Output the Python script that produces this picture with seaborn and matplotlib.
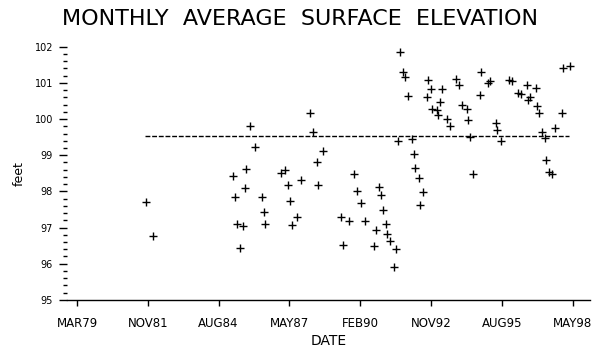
import numpy as np
import pandas as pd
import matplotlib
matplotlib.use("Agg")
import matplotlib.pyplot as plt
import seaborn as sns

# decimal year of each monthly reading, and elevation in feet
year = [1981.83, 1982.10, 1985.20, 1985.28, 1985.35, 1985.47, 1985.59, 1985.66,
        1985.70, 1985.86, 1986.05, 1986.33, 1986.38, 1986.44, 1987.06, 1987.21,
        1987.33, 1987.40, 1987.48, 1987.67, 1987.83, 1988.18, 1988.29, 1988.45,
        1988.49, 1988.68, 1989.38, 1989.45, 1989.68, 1989.88, 1989.99, 1990.15,
        1990.30, 1990.65, 1990.73, 1990.84, 1990.92, 1991.00, 1991.12, 1991.15,
        1991.27, 1991.42, 1991.50, 1991.58, 1991.66, 1991.77, 1991.85, 1991.97,
        1992.12, 1992.20, 1992.24, 1992.39, 1992.43, 1992.55, 1992.70, 1992.74,
        1992.86, 1992.89, 1993.09, 1993.11, 1993.20, 1993.28, 1993.47, 1993.59,
        1993.82, 1993.94, 1994.05, 1994.25, 1994.29, 1994.36, 1994.48, 1994.75,
        1994.80, 1995.06, 1995.14, 1995.35, 1995.39, 1995.56, 1995.87, 1995.99,
        1996.22, 1996.34, 1996.57, 1996.60, 1996.68, 1996.92, 1996.95, 1997.03,
        1997.15, 1997.26, 1997.30, 1997.42, 1997.53, 1997.65, 1997.92, 1997.96,
        1998.23]
feet = [97.70, 96.77, 98.42, 97.84, 97.10, 96.44, 97.04, 98.09,
        98.61, 99.80, 99.22, 97.84, 97.43, 97.10, 98.50, 98.58,
        98.17, 97.73, 97.07, 97.29, 98.31, 100.18, 99.63, 98.80,
        98.17, 99.13, 97.29, 96.52, 97.18, 98.47, 98.01, 97.67,
        97.18, 96.49, 96.93, 98.12, 97.90, 97.48, 97.10, 96.82,
        96.63, 95.91, 96.41, 99.38, 101.86, 101.31, 101.17, 100.65,
        99.44, 99.02, 98.64, 98.36, 97.62, 97.98, 100.60, 101.09,
        100.82, 100.29, 100.24, 100.10, 100.48, 100.84, 99.99, 99.80,
        101.12, 100.95, 100.40, 100.29, 99.96, 99.49, 98.47, 100.66,
        101.31, 101.01, 101.04, 99.88, 99.71, 99.38, 101.09, 101.04,
        100.73, 100.68, 100.95, 100.54, 100.60, 100.87, 100.37, 100.18,
        99.63, 99.47, 98.86, 98.53, 98.47, 99.74, 100.18, 101.42,
        101.48]

mean_level = 99.53
mean_span = [1981.80, 1998.20]

tick_pos = [1979.162, 1981.900, 1984.638, 1987.376, 1990.114, 1992.852, 1995.590, 1998.328]
tick_lab = ['MAR79', 'NOV81', 'AUG84', 'MAY87', 'FEB90', 'NOV92', 'AUG95', 'MAY98']

df = pd.DataFrame({'year': year, 'feet': feet})

sns.set_theme(style="white")
plt.rcParams['font.family'] = ['DejaVu Sans']
plt.rcParams['text.color'] = 'black'
plt.rcParams['axes.labelcolor'] = 'black'
plt.rcParams['xtick.color'] = 'black'
plt.rcParams['ytick.color'] = 'black'

fig = plt.figure(figsize=(5.97, 3.54), dpi=100)
ax = fig.add_axes([0.112, 0.153, 0.876, 0.715])

sns.scatterplot(data=df, x='year', y='feet', marker='+', color='black',
                s=40, linewidth=1.0, ax=ax, legend=False)
ax.hlines(mean_level, mean_span[0], mean_span[1], colors='black',
          linestyles=(0, (3.5, 1.3)), linewidth=1.0)

ax.set_xlim(1978.77, 1998.99)
ax.set_ylim(95, 102)

ax.set_xticks(tick_pos)
ax.set_xticklabels(tick_lab, fontsize=8.5)
ax.set_yticks(np.arange(95, 103, 1))
ax.set_yticklabels([str(v) for v in range(95, 103)], fontsize=7)
ax.set_yticks(np.arange(95, 102.01, 0.2), minor=True)
ax.tick_params(axis='y', which='major', length=6, width=1, pad=4, left=True)
ax.tick_params(axis='y', which='minor', length=3, width=1, left=True)
ax.tick_params(axis='x', which='major', length=4, width=1, pad=8, bottom=True)

for s in ['top', 'right', 'left']:
    ax.spines[s].set_visible(False)
ax.spines['bottom'].set_color('black')
ax.spines['bottom'].set_linewidth(1.0)

ax.set_xlabel('DATE', fontsize=10, labelpad=3)
ax.set_ylabel('feet', fontsize=9, labelpad=6)
fig.text(0.503, 0.947, 'MONTHLY  AVERAGE  SURFACE  ELEVATION', ha='center', va='center',
         fontsize=16)

fig.savefig('out.png', dpi=100, facecolor='white')
